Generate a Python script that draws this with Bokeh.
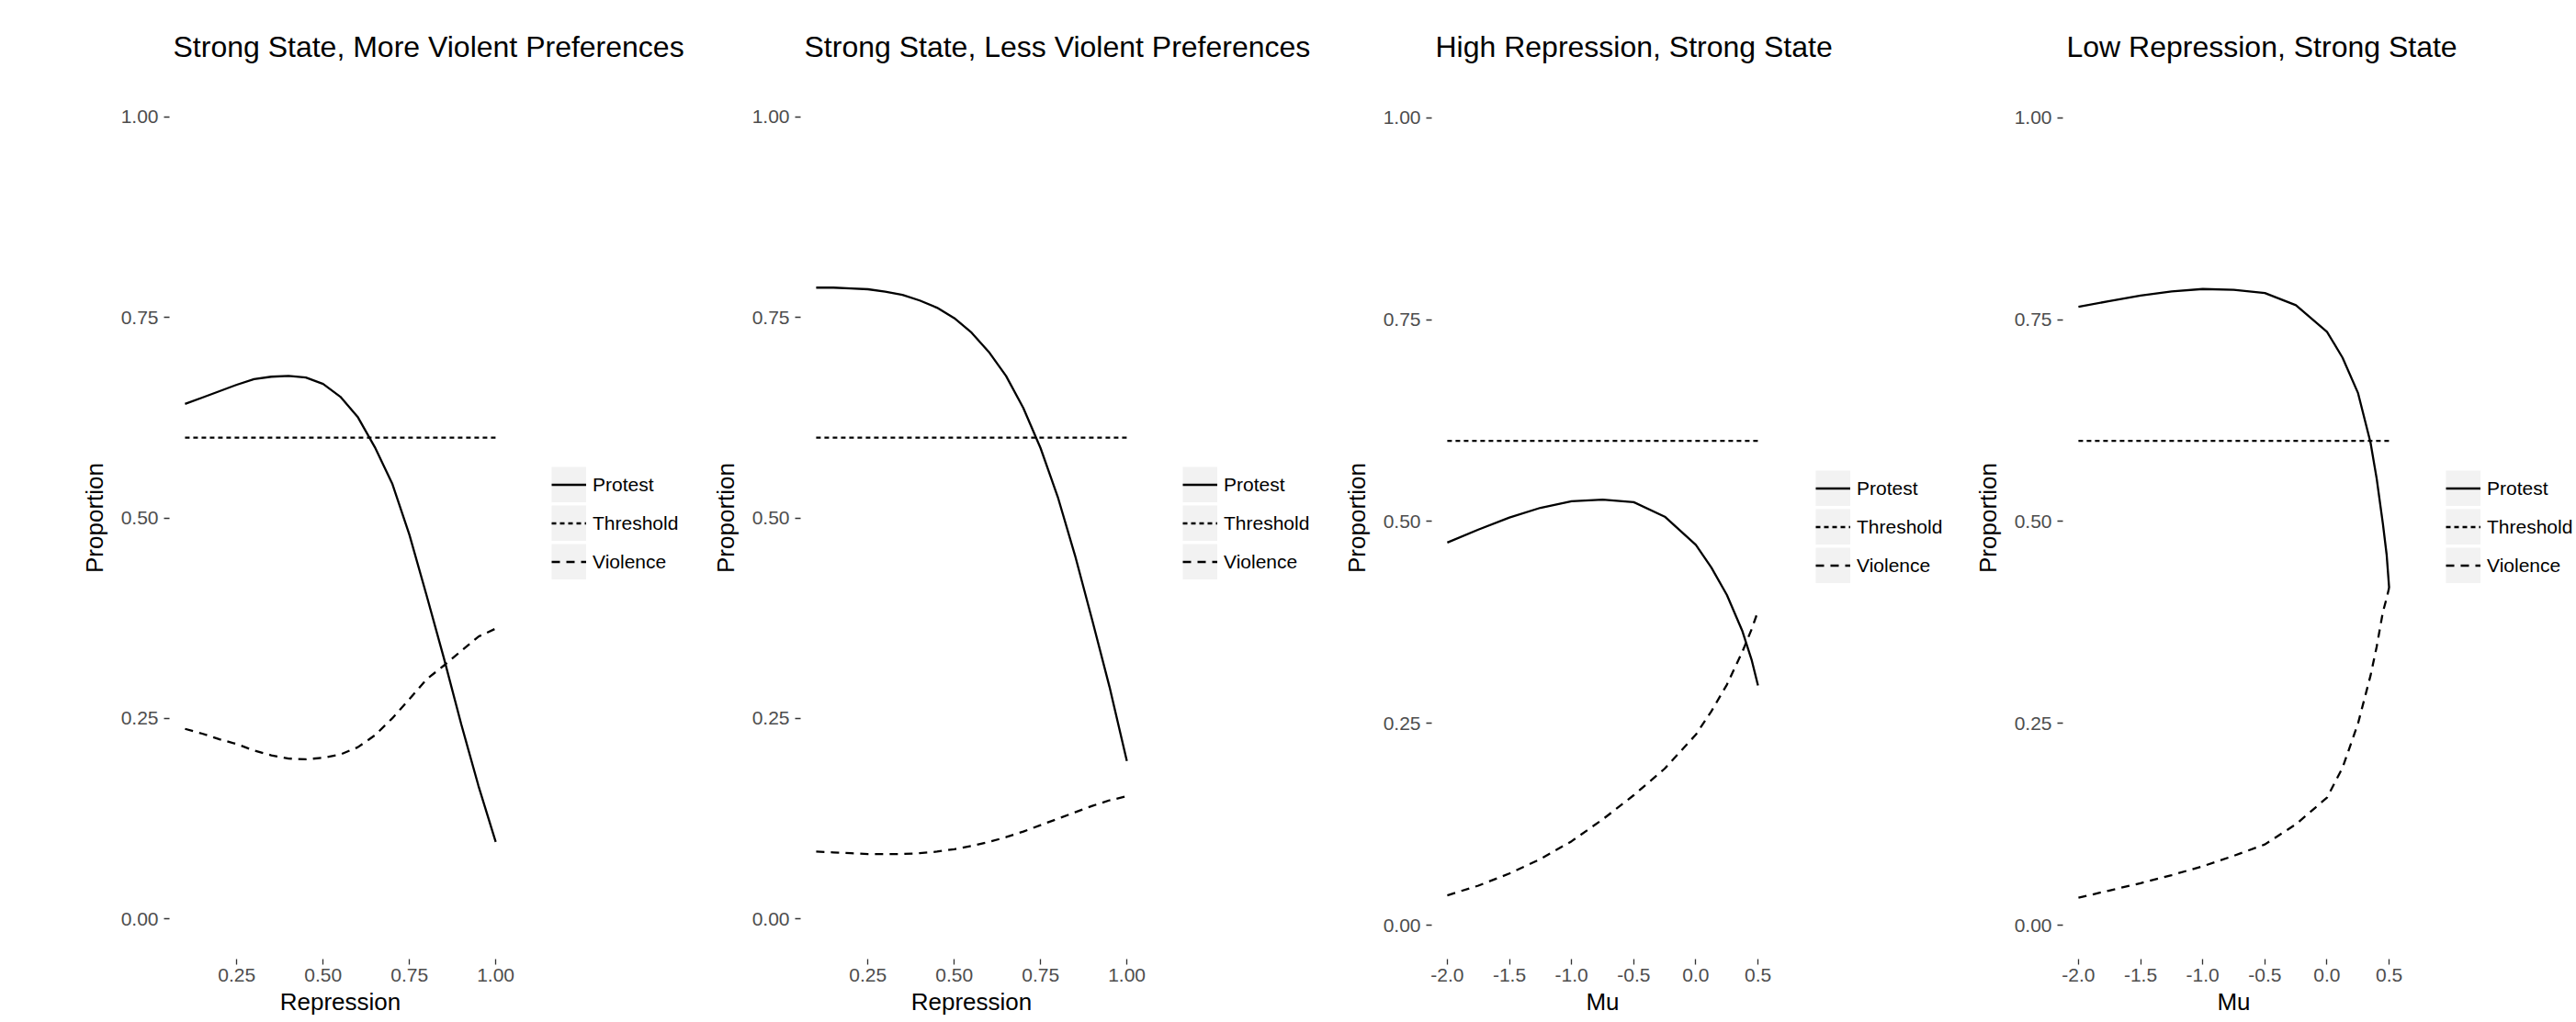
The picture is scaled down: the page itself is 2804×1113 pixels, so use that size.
from bokeh.plotting import figure
from bokeh.layouts import row
from bokeh.models import (ColumnDataSource, Legend, LegendItem, FixedTicker,
                          NumeralTickFormatter, Range1d, Title)
from bokeh.embed import file_html
from bokeh.resources import INLINE

FONT = "Liberation Sans"

# ---------------- data ----------------
titles = ["Strong State, More Violent Preferences",
          "Strong State, Less Violent Preferences",
          "High Repression, Strong State",
          "Low Repression, Strong State"]
series_names = ["Protest", "Threshold", "Violence"]

rep_ticks = [0.25, 0.50, 0.75, 1.00]
mu_ticks = [-2.0, -1.5, -1.0, -0.5, 0.0, 0.5]
y_ticks = [0.00, 0.25, 0.50, 0.75, 1.00]

# Panel 1: Strong State, More Violent Preferences (x = Repression)
p1_x = [0.10, 0.15, 0.20, 0.25, 0.30, 0.35, 0.40, 0.45, 0.50, 0.55,
        0.60, 0.65, 0.70, 0.75, 0.80, 0.85, 0.90, 0.95, 1.00]
p1_protest = [0.642, 0.650, 0.658, 0.666, 0.673, 0.676, 0.677, 0.675, 0.667, 0.651,
              0.626, 0.588, 0.543, 0.479, 0.403, 0.325, 0.243, 0.166, 0.096]
p1_violence = [0.237, 0.231, 0.224, 0.218, 0.210, 0.204, 0.200, 0.199, 0.201, 0.205,
               0.214, 0.229, 0.250, 0.274, 0.299, 0.316, 0.334, 0.352, 0.362]
p1_threshold = [0.60, 0.60]

# Panel 2: Strong State, Less Violent Preferences (x = Repression)
p2_x = [0.10, 0.15, 0.20, 0.25, 0.30, 0.35, 0.40, 0.45, 0.50, 0.55,
        0.60, 0.65, 0.70, 0.75, 0.80, 0.85, 0.90, 0.95, 1.00]
p2_protest = [0.787, 0.787, 0.786, 0.785, 0.782, 0.778, 0.771, 0.762, 0.749, 0.731,
              0.707, 0.677, 0.637, 0.587, 0.526, 0.453, 0.372, 0.289, 0.197]
p2_violence = [0.084, 0.083, 0.082, 0.081, 0.081, 0.081, 0.082, 0.084, 0.087, 0.091,
               0.096, 0.102, 0.109, 0.117, 0.125, 0.133, 0.141, 0.148, 0.153]
p2_threshold = [0.60, 0.60]

# Panel 3: High Repression, Strong State (x = Mu)
p3_x = [-2.00, -1.75, -1.50, -1.25, -1.00, -0.75, -0.50, -0.25, 0.00,
        0.125, 0.25, 0.375, 0.45, 0.50]
p3_protest = [0.474, 0.490, 0.505, 0.517, 0.525, 0.527, 0.524, 0.506, 0.471,
              0.443, 0.409, 0.364, 0.328, 0.297]
p3_violence = [0.037, 0.049, 0.064, 0.082, 0.104, 0.131, 0.161, 0.194, 0.236,
               0.265, 0.298, 0.339, 0.367, 0.389]
p3_threshold = [0.60, 0.60]

# Panel 4: Low Repression, Strong State (x = Mu)
p4_x = [-2.00, -1.75, -1.50, -1.25, -1.00, -0.75, -0.50, -0.25, 0.00,
        0.125, 0.25, 0.35, 0.40, 0.45, 0.48, 0.50]
p4_protest = [0.766, 0.773, 0.780, 0.785, 0.788, 0.787, 0.783, 0.768, 0.735,
              0.703, 0.659, 0.598, 0.553, 0.497, 0.459, 0.418]
p4_violence = [0.034, 0.043, 0.052, 0.062, 0.073, 0.086, 0.100, 0.125, 0.158,
               0.195, 0.250, 0.309, 0.345, 0.388, 0.405, 0.418]
p4_threshold = [0.60, 0.60]

# ---------------- layout constants ----------------
H = 1113
TOP = 83
BOTTOM = 69
PANEL_W = 372          # width of the data panel
KEY_BG = "#F2F2F2"
TICK_COLOR = "#4D4D4D"
LEGEND_H = 3 * 39 + 2 * 3
FRAME_BOTTOM = H - BOTTOM
XLAB_EM = {"Repression": 5.057, "Mu": 1.389}   # Arial/Liberation advance widths (em)
XLAB_PX = 26


def make_panel(title, x, protest, violence, threshold, xlabel, xticks, xfmt,
               y_rng, left, frame_w, legend_dx, legend_cy):
    span = x[-1] - x[0]
    x0 = x[0] - 0.05 * span
    x1 = x[-1] + 0.05 * span
    # the frame continues to the right to host the legend guide box
    x_end = x0 + (x1 - x0) * frame_w / PANEL_W
    p = figure(width=left + frame_w, height=H, output_backend="svg",
               toolbar_location=None, x_range=Range1d(x0, x_end),
               y_range=Range1d(*y_rng),
               min_border_left=left, min_border_right=0,
               min_border_top=TOP, min_border_bottom=BOTTOM)
    p.outline_line_color = None
    p.background_fill_color = "white"
    p.border_fill_color = "white"
    p.xgrid.visible = False
    p.ygrid.visible = False

    p.title.text = title
    p.title.align = "left"
    p.title.offset = 4
    p.title.standoff = 29
    p.title.text_font = FONT
    p.title.text_font_size = "32px"
    p.title.text_font_style = "normal"
    p.title.text_color = "black"

    src = ColumnDataSource(dict(x=x, protest=protest, violence=violence))
    tsrc = ColumnDataSource(dict(x=[x[0], x[-1]], y=threshold))

    r_thr = p.line("x", "y", source=tsrc, line_color="black", line_width=2.3, line_dash="5 4")
    r_vio = p.line("x", "violence", source=src, line_color="black", line_width=2.3, line_dash="9 7")
    r_pro = p.line("x", "protest", source=src, line_color="black", line_width=2.3)

    # grey key backgrounds for the legend (not drawn in the panel)
    bgs = []
    for col in ["protest", "violence", "protest"]:
        bg = p.line("x", col, source=src, line_width=39, line_color=KEY_BG)
        bg.visible = False
        bgs.append(bg)

    for ax, ticks, fmt in [(p.xaxis[0], xticks, xfmt), (p.yaxis[0], y_ticks, "0.00")]:
        ax.ticker = FixedTicker(ticks=ticks)
        ax.formatter = NumeralTickFormatter(format=fmt)
        ax.major_label_text_font = FONT
        ax.major_label_text_font_size = "21px"
        ax.major_label_text_color = TICK_COLOR
        ax.axis_line_color = None
        ax.major_tick_line_color = "#333333"
        ax.major_tick_line_width = 1.3
        ax.major_tick_out = 6
        ax.major_tick_in = 0
        ax.minor_tick_out = 0
        ax.minor_tick_in = 0
    p.xaxis[0].major_label_standoff = 4
    p.yaxis[0].major_label_standoff = 6
    yax = p.yaxis[0]
    yax.axis_label = "Proportion"
    yax.axis_label_text_font = FONT
    yax.axis_label_text_font_size = f"{XLAB_PX}px"
    yax.axis_label_text_font_style = "normal"
    yax.axis_label_text_color = "black"
    yax.axis_label_standoff = 11

    # x-axis title, centred under the data panel (not under the legend area)
    xt = Title(text=xlabel, align="left", vertical_align="top",
               offset=PANEL_W / 2 - XLAB_EM[xlabel] * XLAB_PX / 2, standoff=8,
               text_font=FONT, text_font_size=f"{XLAB_PX}px",
               text_font_style="normal", text_color="black")
    p.add_layout(xt, "below")

    legend = Legend(
        items=[LegendItem(label=series_names[0], renderers=[bgs[0], r_pro]),
               LegendItem(label=series_names[1], renderers=[bgs[1], r_thr]),
               LegendItem(label=series_names[2], renderers=[bgs[2], r_vio])],
        location=(PANEL_W + legend_dx, FRAME_BOTTOM - legend_cy - LEGEND_H // 2),
        orientation="vertical", glyph_width=38, glyph_height=39, spacing=3,
        padding=0, margin=0, label_standoff=7, label_height=39,
        label_text_font=FONT, label_text_font_size="21px", label_text_color="black",
        background_fill_alpha=0, border_line_color=None)
    p.add_layout(legend, "center")
    return p


pA = make_panel(titles[0], p1_x, p1_protest, p1_violence, p1_threshold, "Repression",
                rep_ticks, "0.00", (-0.05, 1.05), 184, 587, 44, 570)
pB = make_panel(titles[1], p2_x, p2_protest, p2_violence, p2_threshold, "Repression",
                rep_ticks, "0.00", (-0.05, 1.05), 100, 587, 44, 570)
pC = make_panel(titles[2], p3_x, p3_protest, p3_violence, p3_threshold, "Mu",
                mu_ticks, "0.0", (-0.042, 1.051), 100, 587, 46, 574)
pD = make_panel(titles[3], p4_x, p4_protest, p4_violence, p4_threshold, "Mu",
                mu_ticks, "0.0", (-0.042, 1.051), 100, 559, 45, 574)

layout = row(pA, pB, pC, pD)
open("out.html", "w").write(file_html(layout, INLINE))
